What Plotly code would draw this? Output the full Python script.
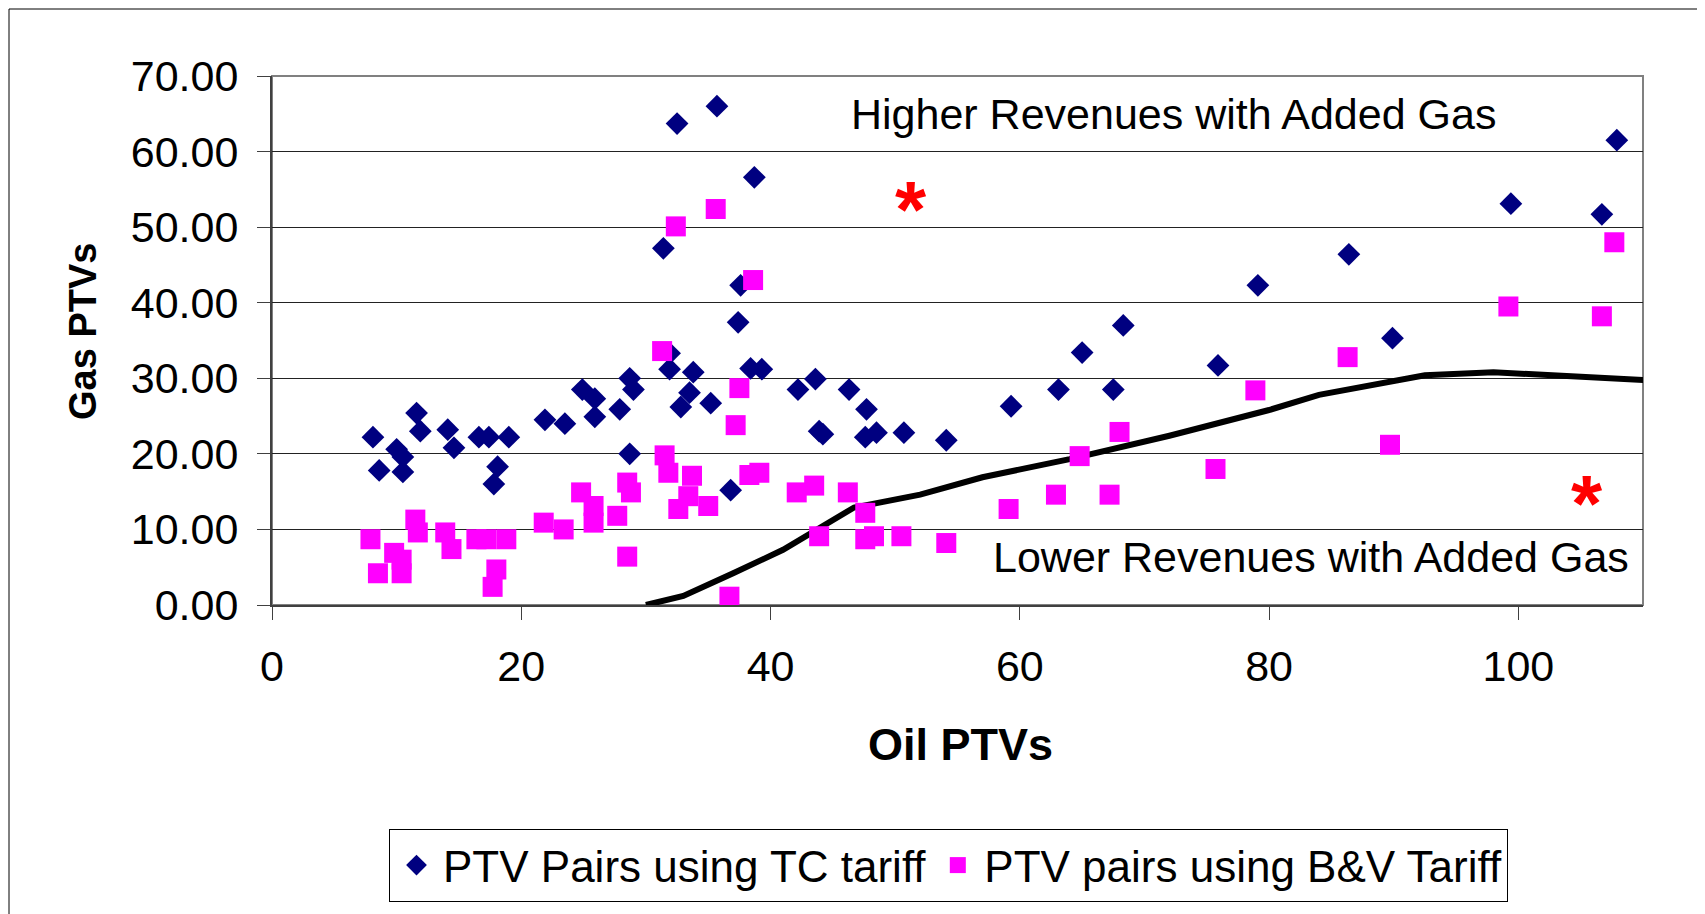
import plotly.graph_objects as go

# ---- data ----
tc_x = [8.1, 8.6, 10.0, 10.5, 10.5, 11.6, 11.9, 14.1, 14.6, 16.6, 17.4, 17.8, 18.1, 19.0,
        21.9, 23.5, 24.9, 25.9, 25.9, 27.9, 28.7, 29.0, 28.7, 31.4, 31.9, 31.9, 32.5, 32.8,
        33.5, 33.8, 35.2, 35.7, 36.8, 37.4, 37.6, 38.4, 38.7, 39.3, 42.2, 43.6, 43.9, 44.2,
        46.3, 47.7, 47.6, 48.5, 50.7, 54.1, 59.3, 63.1, 65.0, 67.5, 68.3, 75.9, 79.1, 86.4,
        89.9, 99.4, 106.7, 107.9]
tc_y = [22.2, 17.8, 20.6, 19.6, 17.6, 25.4, 23.0, 23.2, 20.8, 22.2, 22.2, 16.0, 18.3, 22.2,
        24.5, 24.0, 28.5, 27.3, 24.9, 25.9, 30.0, 28.5, 20.0, 47.2, 33.3, 31.2, 63.7, 26.2,
        28.1, 30.8, 26.7, 66.0, 15.2, 37.4, 42.3, 31.3, 56.6, 31.2, 28.5, 29.9, 23.0, 22.6,
        28.5, 25.9, 22.2, 22.8, 22.8, 21.8, 26.3, 28.5, 33.4, 28.5, 37.0, 31.7, 42.3, 46.4,
        35.3, 53.1, 51.7, 61.5]

bv_x = [7.9, 8.5, 9.8, 10.4, 10.4, 11.5, 11.7, 13.9, 14.4, 16.4, 17.2, 18.8, 18.0, 17.7,
        21.8, 23.4, 24.8, 25.8, 25.8, 27.7, 28.5, 28.5, 28.8, 31.3, 31.5, 31.8, 32.4, 32.6,
        33.4, 33.7, 35.0, 35.6, 36.7, 37.2, 37.5, 38.3, 38.6, 39.1, 42.1, 43.5, 43.9, 46.2,
        47.6, 47.6, 48.3, 50.5, 54.1, 59.1, 62.9, 64.8, 67.2, 68.0, 75.7, 78.9, 86.3, 89.7,
        99.2, 106.7, 107.7]
bv_y = [8.7, 4.2, 6.9, 6.0, 4.2, 11.3, 9.6, 9.6, 7.4, 8.7, 8.7, 8.7, 4.7, 2.4,
        10.9, 10.0, 14.9, 13.1, 10.9, 11.8, 6.4, 16.2, 14.9, 33.6, 19.8, 17.5, 50.1, 12.7,
        14.4, 17.1, 13.1, 52.4, 1.1, 23.8, 28.7, 17.2, 43.0, 17.5, 14.9, 15.8, 9.1, 14.9,
        12.2, 8.7, 9.1, 9.1, 8.2, 12.7, 14.6, 19.7, 14.6, 22.9, 18.0, 28.4, 32.8, 21.2,
        39.5, 38.2, 48.0]

line_x = [30.0, 33.0, 37.0, 41.0, 46.7, 52.0, 57.0, 64.0, 72.0, 76.0, 80.0, 84.0, 92.5, 98.0, 110.8]
line_y = [0.0, 1.2, 4.2, 7.3, 12.9, 14.6, 16.9, 19.3, 22.4, 24.0, 25.8, 27.8, 30.4, 30.8, 29.7]

star_x = [51.3, 105.5]
star_y = [54.2, 15.3]

series_names = ["PTV Pairs using TC tariff", "PTV pairs using B&V Tariff"]
x_title = "Oil PTVs"
y_title = "Gas PTVs"
note_high = "Higher Revenues with Added Gas"
note_low = "Lower Revenues with Added Gas"

FONT = "Liberation Sans, Arial, sans-serif"

fig = go.Figure()
fig.add_trace(go.Scatter(x=line_x, y=line_y, mode="lines",
                         line=dict(color="black", width=6), showlegend=False,
                         hoverinfo="skip"))
fig.add_trace(go.Scatter(x=tc_x, y=tc_y, mode="markers", name=series_names[0],
                         marker=dict(symbol="diamond", size=17.5, color="#000080",
                                     line=dict(width=0)), cliponaxis=False))
fig.add_trace(go.Scatter(x=bv_x, y=bv_y, mode="markers", name=series_names[1],
                         marker=dict(symbol="square", size=20, color="#FF00FF",
                                     line=dict(width=0)), cliponaxis=False))

# page body has an 8px margin; work in screen pixels and convert
OFF = 8
W, H = 1705 - OFF, 914 - OFF
L = 272 - OFF
T = 76 - OFF
R = W - (1643 - OFF)
B = H - (605 - OFF)
pw = W - L - R
ph = H - T - B

def px(xs):
    return (xs - OFF - L) / pw

def py(ys):
    return (H - B - (ys - OFF)) / ph

annotations = [
    dict(text=note_high, x=72.3, y=65.0, xref="x", yref="y", showarrow=False,
         font=dict(family=FONT, size=43, color="black")),
    dict(text=note_low, x=83.4, y=6.35, xref="x", yref="y", showarrow=False,
         font=dict(family=FONT, size=43, color="black")),
    dict(text="<b>" + x_title + "</b>", x=px(960), y=py(745), xref="paper", yref="paper",
         showarrow=False, xanchor="center", yanchor="middle",
         font=dict(family=FONT, size=45, color="black")),
    dict(text="<b>" + y_title + "</b>", x=px(83), y=py(332), xref="paper", yref="paper",
         showarrow=False, xanchor="center", yanchor="middle", textangle=-90,
         font=dict(family=FONT, size=38, color="black")),
]
for sx, sy in zip(star_x, star_y):
    annotations.append(dict(text="<b>*</b>", x=sx, y=sy, xref="x", yref="y",
                            showarrow=False, yshift=-14,
                            font=dict(family=FONT, size=80, color="#FF0000")))

shapes = [
    dict(type="rect", xref="x domain", yref="y domain", x0=0, x1=1, y0=0, y1=1,
         line=dict(color="#808080", width=2), layer="below"),
    dict(type="rect", xref="paper", yref="paper", x0=px(9), x1=px(1698),
         y0=py(940), y1=py(9), line=dict(color="black", width=1), layer="below"),
]

fig.update_layout(
    width=W, height=H,
    margin=dict(l=L, r=R, t=T, b=B, pad=0),
    paper_bgcolor="white", plot_bgcolor="white",
    font=dict(family=FONT, color="black"),
    xaxis=dict(range=[0, 110], tick0=0, dtick=20, showgrid=False, zeroline=False,
               showline=True, linecolor="#404040", linewidth=2,
               ticks="outside", ticklen=13, tickwidth=1, tickcolor="#404040",
               tickfont=dict(family=FONT, size=43, color="black"),
               ticklabelstandoff=9),
    yaxis=dict(range=[0, 70], tick0=0, dtick=10, tickformat=".2f",
               showgrid=True, gridcolor="#222222", gridwidth=1, zeroline=False,
               showline=True, linecolor="#404040", linewidth=2,
               ticks="outside", ticklen=13, tickwidth=1, tickcolor="#404040",
               tickfont=dict(family=FONT, size=43, color="black"),
               ticklabelstandoff=10),
    legend=dict(orientation="h", x=px(389), y=py(829), xanchor="left", yanchor="top",
                bordercolor="black", borderwidth=1, bgcolor="white", itemwidth=43,
                font=dict(family=FONT, size=44, color="black")),
    annotations=annotations,
    shapes=shapes,
)

fig.write_html("out.html")
